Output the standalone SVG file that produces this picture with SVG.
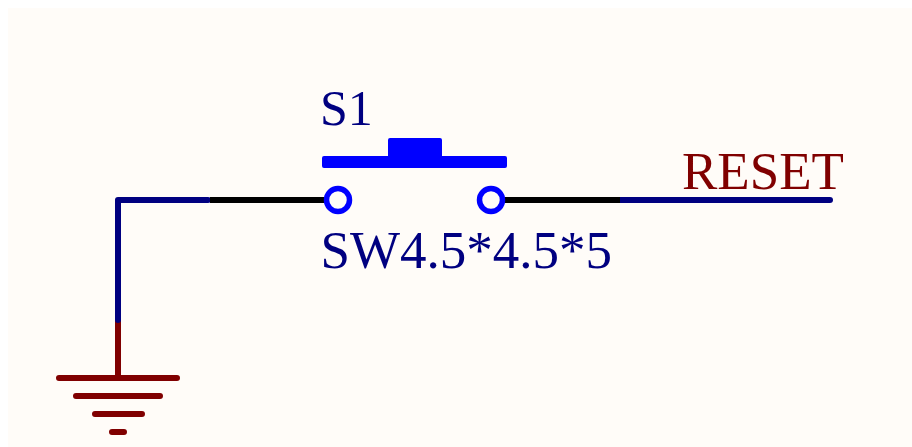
<svg xmlns="http://www.w3.org/2000/svg" width="912" height="447" viewBox="0 0 912 447">
<style>
.t{font-family:"Liberation Serif","Times New Roman",serif;font-size:53px}
.blue{fill:#000080}
.red{fill:#800000}
.w{fill:none;stroke-width:6;stroke-linecap:round;stroke-linejoin:round}
.nw{stroke:#000080}
.pw{stroke:#000;stroke-linecap:butt}
.gw{stroke:#800000}
.pin{fill:none;stroke:#0000ff;stroke-width:5.5}
</style>
<rect width="912" height="447" fill="#ffffff"/>
<rect x="8" y="8" width="904" height="439" fill="#fffcf8"/>
<g id="connectors">
<path class="w gw" d="M118 320V378"/>
<path class="w nw" d="M118 320V200H208"/>
<path class="w nw" d="M620 200H830"/>
<path class="w pw" d="M210 200H326"/>
<path class="w pw" d="M503 200H620"/>
</g>
<g id="S1">
<path d="M324 156H388V140Q388 138 390 138H440Q442 138 442 140V156H505Q507 156 507 158V166Q507 168 505 168H324Q322 168 322 166V158Q322 156 324 156Z" fill="#0000ff"/>
<circle class="pin" cx="338" cy="200" r="11.5"/>
<circle class="pin" cx="491" cy="200" r="11.5"/>
<text class="t blue" x="320" y="125" style="font-size:50px">S1</text>
<text class="t blue" x="320.5" y="268">SW4.5*4.5*5</text>
</g>
<g id="GND">
<path class="w gw" d="M59 378H177M76 396H160M95 414H142M112 432H124"/>
</g>
<g id="RESET">
<text class="t red" x="682" y="189">RESET</text>
</g>
</svg>
